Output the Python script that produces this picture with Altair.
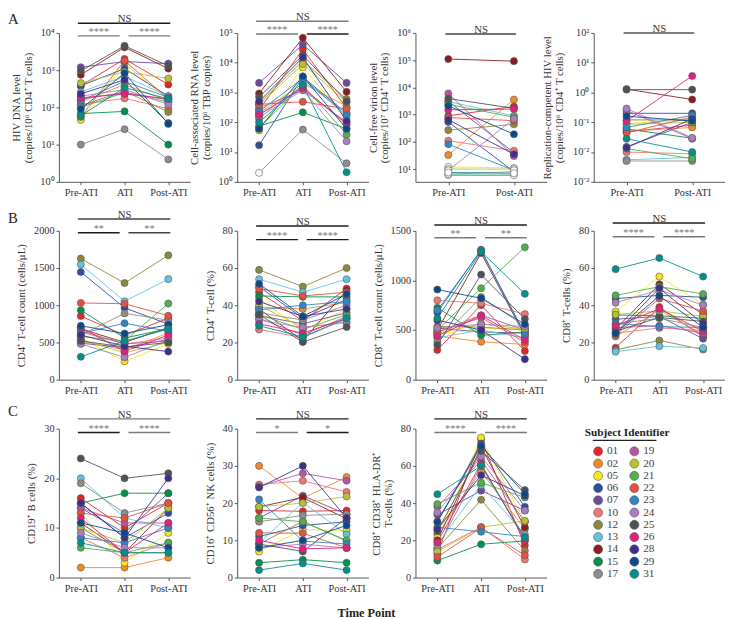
import altair as alt
import pandas as pd

FONT = "Liberation Serif"

subjects = ["01", "02", "05", "06", "07", "10", "12", "13", "14", "15", "17",
            "19", "20", "21", "22", "23", "24", "25", "26", "28", "29", "31"]
colors = ["#e4262b", "#f28a28", "#f7e718", "#2b4ea0", "#6b4c9c", "#ee7676", "#8c8a3a",
          "#62c3df", "#8e1b1e", "#00904c", "#8d8d8d", "#b6569f", "#b8c130", "#50b04b",
          "#e9503f", "#3185c6", "#a980bd", "#4e5255", "#e61e7d", "#3b318a", "#0a4a8c", "#01908e"]

time3 = ["Pre-ATI", "ATI", "Post-ATI"]
time2 = ["Pre-ATI", "Post-ATI"]

# A1 HIV DNA (copies/10^6 CD4+ T cells)
dna_pre = [380, 140, 46, 380, 1200, 120, 110, 260, 750, 68, 10, 170, 450, 100, 55, 150, 200, 950, 180, 230, 90, 60]
dna_ati = [2000, 410, 1500, 1100, 1700, 175, 275, 680, 4100, 78, 26, 250, 900, 250, 1800, 500, 300, 4500, 230, 550, 830, 340]
dna_post = [410, 150, 160, 200, 1500, 92, 75, 200, 1100, 10, 4, 160, 600, 140, 170, 185, 120, 1300, 170, 38, 36, 170]

# A2 cell-associated RNA
rna_pre = [260, 200, 53, 17, 2100, 180, 430, 130, 930, 74, 2, 300, 380, 65, 400, 230, 150, 700, 180, 500, 60, 100]
rna_ati = [28000, 2000, 7000, 3300, 41000, 1500, 11600, 2500, 69000, 215, 57, 1200, 9000, 1800, 490, 3000, 1200, 18000, 1400, 15000, 3500, 1800]
rna_post = [300, 350, 130, 200, 2100, 80, 600, 200, 1050, 60, 4.2, 100, 470, 39, 280, 170, 23, 500, 90, 110, 60, 2.1]
rna_pre_open = ["17"]

# A3 cell-free virion
vir_pre = [900, 33, 12, 540, 3100, 110, 270, 3000, 110000, 6, 6.5, 6000, 10, 2400, 780, 82, 9, 3900, 1500, 650, 2100, 7.5]
vir_post = [2000, 3600, 11, 8, 40, 47, 440, 900, 92000, 6, 8, 30, 10, 800, 600, 9, 700, 1700, 1600, 35, 190, 7]
vir_pre_open = ["05", "15", "17", "20", "24", "31"]
vir_post_open = ["05", "06", "15", "17", "20", "23", "31"]

# A4 replication-competent HIV
rc_pre = [0.048, 0.05, 0.09, 0.2, 0.015, 0.01, 0.12, 0.0055, 1.3, 0.06, 0.005, 0.25, 0.085, 0.013, 0.044, 0.067, 0.29, 1.25, 0.11, 0.014, 0.16, 0.028]
rc_post = [0.08, 0.067, 0.12, 0.2, 0.1, 0.0087, 0.12, 0.0066, 0.58, 0.029, 0.005, 0.028, 0.1, 0.006, 0.15, 0.17, 0.03, 1.25, 3.6, 0.13, 0.11, 0.01]

# B1 CD4 count
cd4c_pre = [855, 520, 560, 1447, 490, 640, 1627, 1548, 684, 934, 600, 660, 540, 580, 1031, 620, 480, 520, 700, 600, 724, 307]
cd4c_ati = [596, 400, 246, 965, 430, 480, 1298, 1053, 500, 560, 890, 480, 360, 520, 1020, 759, 300, 440, 380, 450, 620, 520]
cd4c_post = [825, 627, 480, 746, 540, 560, 1671, 1351, 700, 684, 800, 520, 500, 1022, 860, 650, 530, 500, 600, 377, 740, 680]

# B2 CD4 %
cd4p_pre = [47, 39, 43.5, 50, 34.4, 27, 59, 54, 38, 45, 36, 33, 40, 35, 49, 37.5, 32, 35, 30, 42, 51.5, 29]
cd4p_ati = [31.6, 38, 26.6, 33, 30, 22.6, 50, 47, 20.9, 44.5, 32, 24, 28, 27, 45, 40, 28, 20.2, 25, 34, 34, 23]
cd4p_post = [49, 41.4, 38, 43, 36, 32.7, 60, 54, 48, 44.5, 40, 34, 30.6, 35, 47, 42, 31, 28.3, 33, 38, 46, 33]

# B3 CD8 count
cd8c_pre = [300, 440, 460, 678, 520, 800, 536, 421, 500, 724, 380, 480, 470, 500, 480, 700, 520, 350, 440, 600, 908, 618]
cd8c_ati = [750, 382, 513, 1309, 480, 770, 530, 500, 1276, 447, 832, 650, 560, 921, 625, 1300, 560, 1059, 645, 500, 820, 1290]
cd8c_post = [290, 355, 513, 460, 470, 661, 500, 421, 440, 480, 540, 500, 510, 1335, 380, 450, 536, 612, 400, 207, 560, 865]

# B4 CD8 %
cd8p_pre = [17.2, 23.2, 36.6, 43.6, 32.5, 25, 16, 15, 27.2, 34.8, 30, 28, 35, 45.3, 24, 30.2, 41.3, 26, 29, 25, 25, 59.4]
cd8p_ati = [39, 37.3, 55.4, 45.3, 34, 27.8, 21.1, 18, 51.3, 34.3, 33, 29, 37, 50, 43.6, 28.5, 48.3, 33.4, 38, 49.2, 45, 65.4]
cd8p_post = [23, 24.3, 40.4, 44.3, 22, 26.4, 16.2, 17, 35, 33, 28, 25, 34, 46, 36.9, 28.1, 40, 31.3, 26, 30, 28.1, 55.4]

# C1 CD19 B cells %
b_pre = [16, 2, 13, 15, 14, 8, 10, 20, 11, 15, 19, 14, 10, 6, 13, 8, 9, 24, 12, 15, 11, 7]
b_ati = [10, 2, 3, 8, 9, 4, 5, 12, 5, 17, 13, 11, 7, 5, 12, 7, 6, 20, 5, 8, 9, 5]
b_post = [15, 4, 9, 13, 17, 7, 5, 10, 14, 17, 15, 11, 14, 7, 15, 10, 6, 21, 11, 20, 6, 5]

# C2 NK cells %
nk_pre = [18, 30, 7, 11, 16, 25, 9, 9.2, 19, 4, 15, 24.5, 19, 16, 12, 21, 8, 9, 10, 24.2, 8, 2]
nk_ati = [17.8, 21.3, 12.9, 14, 22, 26, 15.1, 20.2, 21.5, 4.8, 16.7, 28, 20, 15, 11.9, 9.8, 9, 7, 7.7, 30, 10, 3.8]
nk_post = [18, 27, 12.7, 15, 17, 23, 9.8, 11.6, 15.8, 4, 17, 26, 21.8, 10, 8, 9, 7.9, 16, 8, 16, 14, 2]

# C3 CD8+ CD38+ HLA-DR+ %
act_pre = [12.8, 23.2, 21.4, 30, 33.7, 15, 15.5, 17.9, 20, 9.1, 16, 38, 14, 39.5, 11, 27, 35, 25, 19, 26, 29.9, 44.8]
act_ati = [74.2, 57, 75.2, 72, 46.7, 27.2, 41.8, 49.6, 70, 17.9, 60, 63, 27, 51, 26.7, 24.6, 65, 68, 61.2, 55, 70.7, 60]
act_post = [17.2, 26, 29.9, 38, 36, 9.7, 14.4, 23.2, 27, 19.7, 21, 30, 30.5, 43, 12, 22, 36, 47, 20, 44, 45, 21.4]

W, H = 134, 152
BLACK = "#1c1c1c"
GRAY = "#7a7a7a"
cs = alt.Scale(domain=subjects, range=colors)

SUP = {-3: "\u207b\u00b3", -2: "\u207b\u00b2", -1: "\u207b\u00b9", 0: "\u2070", 1: "\u00b9",
       2: "\u00b2", 3: "\u00b3", 4: "\u2074", 5: "\u2075", 6: "\u2076"}


def log_axis(title, exps, shown=None):
    shown = shown or {}
    expr = "''"
    for e in reversed(exps):
        lab = "10" + SUP[shown.get(e, e)]
        expr = f"abs(log(datum.value)/LN10 - ({e})) < 0.01 ? '{lab}' : ({expr})"
    return alt.Axis(title=title, values=[10.0 ** e for e in exps], labelExpr=expr)


def lin_axis(title, vals):
    return alt.Axis(title=title, values=vals, format="d")


XAXIS = alt.Axis(title=None, labelAngle=0, tickSize=3, labelPadding=3)


def xs(cats, field="time"):
    return alt.X(f"{field}:N", scale=alt.Scale(type="point", domain=cats, padding=0.5), axis=XAXIS)


def panel(series, cats, yscale, yaxis, bars, opens=None, letter=None):
    rows = []
    for ci, cat in enumerate(cats):
        op = opens[ci] if opens else []
        for si, s in enumerate(subjects):
            rows.append({"subject": s, "time": cat, "ti": ci, "value": series[ci][si],
                         "hollow": s in op})
    df = pd.DataFrame(rows)
    y = alt.Y("value:Q", scale=yscale, axis=yaxis)
    base = alt.Chart(df)
    lines = base.mark_line(strokeWidth=0.9).encode(
        x=xs(cats), y=y,
        color=alt.Color("subject:N", scale=cs, legend=None),
        detail="subject:N", order="ti:Q")
    pts = base.mark_circle(size=52, opacity=1, stroke="#555", strokeWidth=0.6).encode(
        x=xs(cats), y=y,
        color=alt.condition("datum.hollow", alt.value("white"),
                            alt.Color("subject:N", scale=cs, legend=None)))
    layers = [lines, pts]
    for (a, b, lab, col, ypos, oa, ob, tdx) in bars:
        d = alt.Data(values=[{"time": a, "b": b, "lab": lab}])
        rule = alt.Chart(d).mark_rule(color=col, strokeWidth=1.5, xOffset=oa, x2Offset=ob).encode(
            x=xs(cats), x2=alt.X2("b"), y=alt.value(ypos))
        txt = alt.Chart(d).mark_text(font=FONT, fontSize=11 if lab == "NS" else 10.5,
                                     color="#333" if lab == "NS" else "#777",
                                     dx=tdx, align="center", baseline="alphabetic").encode(
            x=xs(cats), y=alt.value(ypos - 1), text="lab:N")
        layers += [rule, txt]
    if letter:
        d = alt.Data(values=[{"t": letter[0]}])
        layers.append(alt.Chart(d).mark_text(font=FONT, fontSize=15, color="#222", align="left",
                                             baseline="middle").encode(
            x=alt.value(-52), y=alt.value(letter[1]), text="t:N"))
    return alt.layer(*layers).properties(width=W, height=H)


def bars3(top, low, stars, c_ns, c_l, c_r):
    step = W / 3
    return [("Pre-ATI", "Post-ATI", "NS", c_ns, top, -3, 2, step),
            ("Pre-ATI", "ATI", stars, c_l, low, -3, -5, (step - 8) / 2),
            ("ATI", "Post-ATI", stars, c_r, low, 4, 2, (step + 6) / 2)]


def bars2(top, c_ns):
    step = W / 2
    return [("Pre-ATI", "Post-ATI", "NS", c_ns, top, -3, 2, step / 2)]


def lin(hi):
    return alt.Scale(domain=[0, hi], nice=False, zero=True)


A1 = panel([dna_pre, dna_ati, dna_post], time3,
           alt.Scale(type="log", domain=[1, 1e4], nice=False),
           log_axis(["HIV DNA level", "(copies/10\u2076 CD4\u207a T cells)"], [0, 1, 2, 3, 4]),
           bars3(-10, 3, "****", BLACK, GRAY, GRAY), letter=("A", -14))
A2 = panel([rna_pre, rna_ati, rna_post], time3,
           alt.Scale(type="log", domain=[1, 1e5], nice=False),
           log_axis(["Cell-associated RNA level", "(copies/10\u2076 TBP copies)"], [0, 1, 2, 3, 4, 5]),
           bars3(-12, 1, "****", GRAY, GRAY, BLACK), opens=[rna_pre_open, [], []])
A3 = panel([vir_pre, vir_post], time2,
           alt.Scale(type="log", domain=[3.4, 1e6], nice=False),
           log_axis(["Cell-free virion level", "(copies/10\u2077 CD4\u207a T cells)"], [1, 2, 3, 4, 5, 6]),
           bars2(1, "#444"), opens=[vir_pre_open, vir_post_open])
A4 = panel([rc_pre, rc_post], time2,
           alt.Scale(type="log", domain=[1e-3, 1e2], nice=False),
           log_axis(["Replication-competent HIV level", "(copies/10\u2076 CD4\u207a T cells)"],
                    [-3, -2, -1, 0, 1, 2], shown={-3: -2}),
           bars2(0, "#555"))

B1 = panel([cd4c_pre, cd4c_ati, cd4c_post], time3, lin(2000),
           lin_axis("CD4\u207a T-cell count (cells/\u03bcL)", [0, 500, 1000, 1500, 2000]),
           bars3(-12, 2, "**", "#444", BLACK, "#444"), letter=("B", -13))
B2 = panel([cd4p_pre, cd4p_ati, cd4p_post], time3, lin(80),
           lin_axis("CD4\u207a T-cell (%)", [0, 20, 40, 60, 80]),
           bars3(-5, 9, "****", BLACK, BLACK, BLACK))
B3 = panel([cd8c_pre, cd8c_ati, cd8c_post], time3, lin(1500),
           lin_axis("CD8\u207a T-cell count (cells/\u03bcL)", [0, 500, 1000, 1500]),
           bars3(-6, 7, "**", BLACK, GRAY, GRAY))
B4 = panel([cd8p_pre, cd8p_ati, cd8p_post], time3, lin(80),
           lin_axis("CD8\u207a T-cells (%)", [0, 20, 40, 60, 80]),
           bars3(-8, 6, "****", BLACK, GRAY, GRAY))

C1 = panel([b_pre, b_ati, b_post], time3, lin(30),
           lin_axis("CD19\u207a B cells (%)", [0, 10, 20, 30]),
           bars3(-10, 4, "****", GRAY, BLACK, GRAY), letter=("C", -18))
C2 = panel([nk_pre, nk_ati, nk_post], time3, lin(40),
           lin_axis("CD16\u207a CD56\u207a NK cells (%)", [0, 10, 20, 30, 40]),
           bars3(-10, 4, "*", BLACK, GRAY, BLACK))
C3 = panel([act_pre, act_ati, act_post], time3, lin(80),
           lin_axis(["CD8\u207a CD38\u207a HLA-DR\u207a", "T-cells (%)"], [0, 20, 40, 60, 80]),
           bars3(-10, 4, "****", BLACK, GRAY, GRAY))

# Legend panel
leg = pd.DataFrame([{"subject": s, "col": i // 11, "row": i % 11} for i, s in enumerate(subjects)])
lx = alt.X("col:Q", scale=alt.Scale(domain=[-0.12, 3.5]), axis=None)
ly = alt.Y("row:Q", scale=alt.Scale(domain=[-1.85, 10.3], reverse=True), axis=None)
leg_pts = alt.Chart(leg).mark_circle(size=85, opacity=1, stroke="#555", strokeWidth=0.6).encode(
    x=lx, y=ly, color=alt.Color("subject:N", scale=cs, legend=None))
leg_txt = alt.Chart(leg).mark_text(font=FONT, fontSize=11.5, color="#444", align="left",
                                   baseline="middle", dx=9).encode(x=lx, y=ly, text="subject:N")
leg_title = alt.Chart(alt.Data(values=[{"t": "Subject Identifier"}])).mark_text(
    font=FONT, fontSize=11.5, fontWeight="bold", color="#222", align="center", baseline="middle").encode(
    x=alt.value(34), y=alt.value(4), text="t:N")
leg_line = alt.Chart(alt.Data(values=[{"t": 1}])).mark_rule(color="#222", strokeWidth=1.3).encode(
    x=alt.value(-1), x2=alt.value(64), y=alt.value(12))
LEG = alt.layer(leg_pts, leg_txt, leg_title, leg_line).properties(width=W, height=H)

chart = alt.concat(
    A1, A2, A3, A4, B1, B2, B3, B4, C1, C2, C3, LEG,
    columns=4, spacing={"row": 50, "column": 48}, bounds="flush",
    title=alt.TitleParams("Time Point", orient="bottom", anchor="middle", font=FONT,
                          fontSize=12.5, fontWeight="bold", color="#222", offset=14),
).resolve_scale(x="independent", y="independent").properties(
    padding={"left": 0, "top": -3, "right": 0, "bottom": 0}
).configure_view(
    stroke=None
).configure_axis(
    grid=False, domainColor="#555", tickColor="#555", labelColor="#333", titleColor="#333",
    labelFont=FONT, titleFont=FONT, labelFontSize=10.5, titleFontSize=11,
    titleFontWeight="normal", tickSize=3, labelPadding=2, titlePadding=7,
    titleLineHeight=12, domainWidth=1, tickWidth=1
)

chart.save("out.html", embed_options={"renderer": "svg", "actions": False})
